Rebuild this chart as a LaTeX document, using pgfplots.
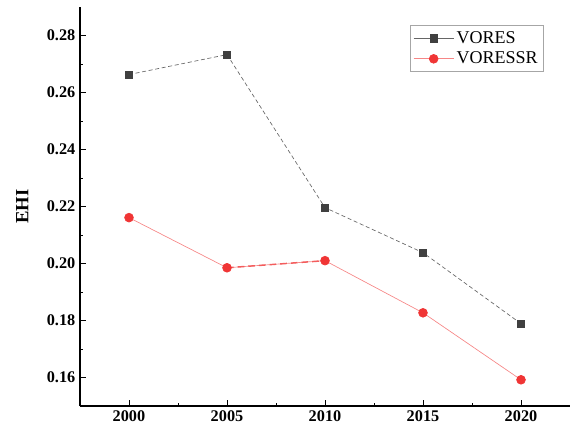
\documentclass[border=0pt]{standalone}
\usepackage{pgfplots}
\pgfplotsset{compat=1.18}
\usepackage{fontspec}
\setmainfont{Liberation Serif}
\definecolor{vgray}{HTML}{404040}
\definecolor{vred}{HTML}{F03535}
\begin{document}
\begin{tikzpicture}[x=1pt,y=1pt]
\begin{axis}[
  scale only axis,
  width=367.5pt, height=299.25pt,
  xmin=1997.5, xmax=2022.5,
  ymin=0.15, ymax=0.29,
  axis x line*=bottom, axis y line*=left,
  axis line style={-, line width=0.8pt},
  xtick={2000,2005,2010,2015,2020},
  minor x tick num=1,
  ytick={0.16,0.18,0.20,0.22,0.24,0.26,0.28},
  minor y tick num=1,
  tick align=inside,
  major tick length=4.5pt, minor tick length=2.5pt,
  tick style={line width=0.7pt, black},
  /pgf/number format/assume math mode=true,
  yticklabel style={/pgf/number format/.cd, fixed, fixed zerofill, precision=2},
  xticklabel style={/pgf/number format/.cd, 1000 sep={}},
  tick label style={font=\fontsize{12.2}{14}\selectfont\bfseries},
  ylabel={EHI},
  every axis y label/.style={at={(axis description cs:-0.118,0.5)}, rotate=90, anchor=center},
  ylabel style={font=\fontsize{14}{16}\selectfont\bfseries},
  legend style={at={(0.947,0.955)}, anchor=north east, draw=gray!70, line width=0.5pt,
    font=\fontsize{13.5}{15}\selectfont, row sep=1pt, inner sep=2.5pt},
  legend cell align=left,
  legend image code/.code={
    \draw[#1, solid] (0pt,0pt) -- (30pt,0pt);
    \draw[#1, draw=none] plot coordinates {(15pt,0pt)};
  },
]
\addplot[gray!80!black, line width=0.5pt, densely dashed, mark=square*, mark size=2.7pt,
  mark options={solid, fill=vgray, draw=vgray}]
  coordinates {(2000,0.2663) (2005,0.2733) (2010,0.2196) (2015,0.2038) (2020,0.1789)};
\addlegendentry{VORES}
\addplot[vred!60, line width=0.5pt, mark=*, mark size=3.3pt,
  mark options={solid, fill=vred, draw=vred}]
  coordinates {(2000,0.2161) (2005,0.1985) (2010,0.2010) (2015,0.1827) (2020,0.1592)};
\addlegendentry{VORESSR}
\addplot[vred!80, line width=1.1pt, dash pattern=on 5pt off 3pt, forget plot]
  coordinates {(2005,0.1985) (2010,0.2010)};
\end{axis}
\path (current axis.south west) ++(-60pt,-19.5pt) coordinate (bl);
\path (current axis.north east) ++(2.25pt,5.25pt) coordinate (tr);
\useasboundingbox (bl) rectangle (tr);
\end{tikzpicture}
\end{document}
